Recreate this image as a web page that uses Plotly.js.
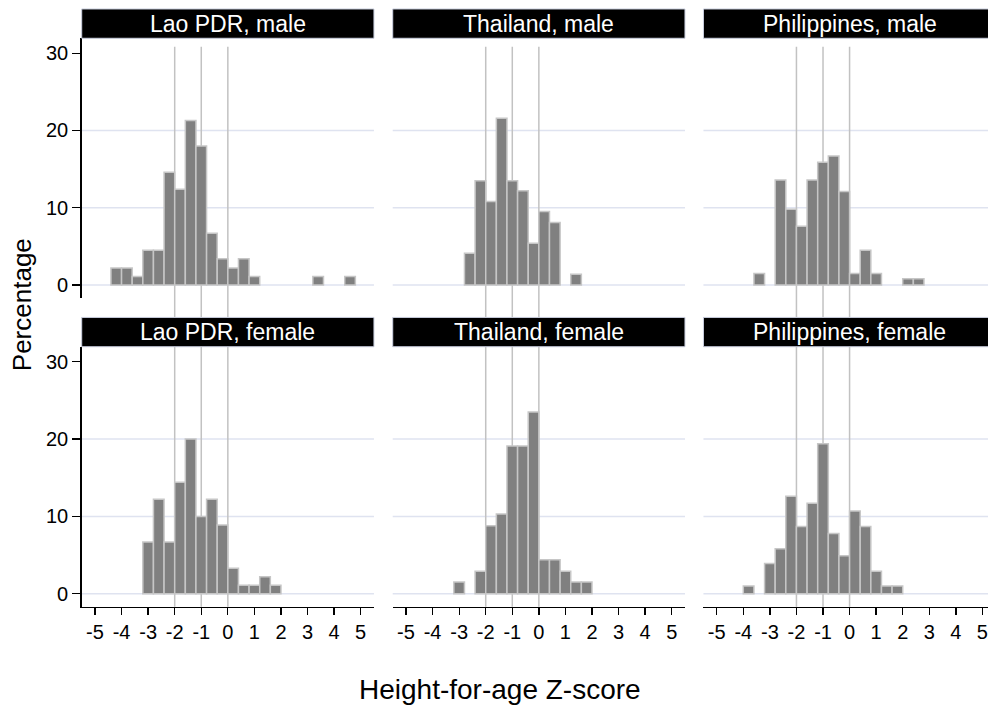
<!DOCTYPE html>
<html><head><meta charset="utf-8">
<script src="https://cdn.plot.ly/plotly-3.0.1.min.js"></script>
<style>body{margin:0;padding:0;background:#fff}</style>
</head><body><div id="chart" style="width:988px;height:718px"></div>
<script>
// ---- data (percentages) ----
const panelTitles = ["Lao PDR, male","Thailand, male","Philippines, male","Lao PDR, female","Thailand, female","Philippines, female"];
const binWidth = 0.4;
const laoMaleBins = [-4.4,-4.0,-3.6,-3.2,-2.8,-2.4,-2.0,-1.6,-1.2,-0.8,-0.4,0.0,0.4,0.8,3.2,4.4];
const laoMalePct  = [2.2,2.2,1.1,4.5,4.5,14.6,12.4,21.3,18.0,6.7,3.4,2.2,3.4,1.1,1.1,1.1];
const thaiMaleBins = [-2.8,-2.4,-2.0,-1.6,-1.2,-0.8,-0.4,0.0,0.4,1.2];
const thaiMalePct  = [4.1,13.5,10.8,21.6,13.5,12.2,5.4,9.5,8.1,1.4];
const phlMaleBins = [-3.6,-2.8,-2.4,-2.0,-1.6,-1.2,-0.8,-0.4,0.0,0.4,0.8,2.0,2.4];
const phlMalePct  = [1.5,13.6,9.8,7.6,13.6,15.9,16.7,12.1,1.5,4.5,1.5,0.8,0.8];
const laoFemaleBins = [-3.2,-2.8,-2.4,-2.0,-1.6,-1.2,-0.8,-0.4,0.0,0.4,0.8,1.2,1.6];
const laoFemalePct  = [6.7,12.2,6.7,14.4,20.0,10.0,12.2,8.9,3.3,1.1,1.1,2.2,1.1];
const thaiFemaleBins = [-3.2,-2.4,-2.0,-1.6,-1.2,-0.8,-0.4,0.0,0.4,0.8,1.2,1.6];
const thaiFemalePct  = [1.5,2.9,8.8,10.3,19.1,19.1,23.5,4.4,4.4,2.9,1.5,1.5];
const phlFemaleBins = [-4.0,-3.2,-2.8,-2.4,-2.0,-1.6,-1.2,-0.8,-0.4,0.0,0.4,0.8,1.2,1.6];
const phlFemalePct  = [1.0,3.9,5.8,12.6,8.7,11.7,19.4,7.8,4.9,10.7,8.7,2.9,1.0,1.0];
const xTicks = [-5,-4,-3,-2,-1,0,1,2,3,4,5];
const yTicks = [0,10,20,30];
const gridVals = [0,10,20];
const refLines = [-2,-1,0];
const xTitle = "Height-for-age Z-score";
const yTitle = "Percentage";

// ---- layout geometry ----
const panelBins = [laoMaleBins, thaiMaleBins, phlMaleBins, laoFemaleBins, thaiFemaleBins, phlFemaleBins];
const panelPct  = [laoMalePct, thaiMalePct, phlMalePct, laoFemalePct, thaiFemalePct, phlFemalePct];
const colDomains = [[0.0827,0.3785],[0.3975,0.6933],[0.712,1.0]];
const colRanges  = [[-5.5,5.5],[-5.5,5.5],[-5.5,5.21]];
const colStripEnd = [1, 1, 1.03];
const rowDomains = [[0.5850,0.9467],[0.1550,0.5171]];
const rowRefSpan = [[0.5585,0.935],[0.1550,0.5171]];
const stripH = 0.0408;
const yRange = [-1.68, 31.94];
const FONT = "Liberation Sans, Arial, sans-serif";

const traces = [];
const shapes = [];
const annotations = [];
const layout = {
  width: 988, height: 718, autosize: false,
  margin: {l:0, r:0, t:0, b:0, pad:0},
  paper_bgcolor: "#ffffff", plot_bgcolor: "rgba(0,0,0,0)",
  font: {family: FONT, color: "#000000"},
  showlegend: false
};

for (let i = 0; i < 6; i++) {
  const n = i + 1;
  const row = Math.floor(i / 3), col = i % 3;
  const xa = "x" + n, ya = "y" + n;
  const bottom = row === 1, left = col === 0;
  traces.push({
    type: "bar", x: panelBins[i], y: panelPct[i], width: binWidth, offset: 0,
    xaxis: xa, yaxis: ya,
    marker: {color: "#808080", line: {color: "#c6c6c6", width: 1.5}},
    hoverinfo: "skip"
  });
  layout["xaxis" + n] = {
    domain: colDomains[col], range: colRanges[col], anchor: ya,
    tickvals: xTicks, ticktext: xTicks.map(String),
    showticklabels: bottom, ticks: bottom ? "outside" : "", ticklen: 7, tickwidth: 1.3, tickcolor: "#000",
    showline: bottom, linecolor: "#000", linewidth: 1.5,
    showgrid: false, zeroline: false, fixedrange: true,
    tickfont: {size: 20, family: FONT, color: "#000"}
  };
  layout["yaxis" + n] = {
    domain: rowDomains[row], range: yRange, anchor: xa,
    tickvals: yTicks, ticktext: yTicks.map(String),
    showticklabels: left, ticks: left ? "outside" : "", ticklen: 8, tickwidth: 1.3, tickcolor: "#000",
    showline: left, linecolor: "#000", linewidth: 1.5,
    showgrid: false, zeroline: false, fixedrange: true,
    tickfont: {size: 20, family: FONT, color: "#000"}
  };
  gridVals.forEach(g => shapes.push({
    type: "line", layer: "below", xref: xa + " domain", x0: 0, x1: 1, yref: ya, y0: g, y1: g,
    line: {color: "#dfe3f0", width: 1.5}
  }));
  refLines.forEach(v => shapes.push({
    type: "line", layer: "below", xref: xa, x0: v, x1: v, yref: "paper",
    y0: rowRefSpan[row][0], y1: rowRefSpan[row][1],
    line: {color: "#c2c2c2", width: 1.5}
  }));
  const sy0 = rowDomains[row][1];
  shapes.push({
    type: "rect", layer: "above", xref: xa + " domain", x0: 0, x1: colStripEnd[col],
    yref: "paper", y0: sy0, y1: sy0 + stripH,
    fillcolor: "#000000", line: {color: "#c9cede", width: 1}
  });
  annotations.push({
    text: panelTitles[i], xref: xa, x: 0, yref: "paper", y: sy0 + stripH / 2,
    xanchor: "center", yanchor: "middle", showarrow: false,
    font: {size: 23, color: "#ffffff", family: FONT}
  });
}
annotations.push({
  text: yTitle, xref: "paper", yref: "paper", x: 0.0223, y: 0.575, textangle: -90,
  xanchor: "center", yanchor: "middle", showarrow: false, font: {size: 26, family: FONT, color: "#000"}
});
annotations.push({
  text: xTitle, xref: "paper", yref: "paper", x: 0.506, y: 0.039,
  xanchor: "center", yanchor: "middle", showarrow: false, font: {size: 28, family: FONT, color: "#000"}
});
layout.shapes = shapes;
layout.annotations = annotations;

Plotly.newPlot("chart", traces, layout, {displayModeBar: false, staticPlot: true});
</script>
</body></html>
